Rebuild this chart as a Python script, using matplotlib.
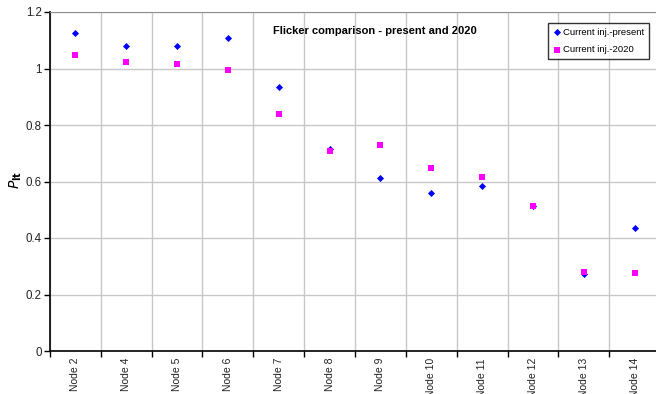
import matplotlib
matplotlib.use("Agg")
import matplotlib.pyplot as plt
import numpy as np

plt.rcParams['font.family'] = ['Liberation Sans', 'DejaVu Sans']

categories = ["Node 2", "Node 4", "Node 5", "Node 6", "Node 7", "Node 8",
              "Node 9", "Node 10", "Node 11", "Node 12", "Node 13", "Node 14"]
present = [1.125, 1.080, 1.079, 1.107, 0.933, 0.715, 0.613, 0.560, 0.584, 0.515, 0.273, 0.434]
y2020 = [1.048, 1.022, 1.017, 0.995, 0.838, 0.708, 0.729, 0.648, 0.615, 0.513, 0.280, 0.276]
yticks = [0, 0.2, 0.4, 0.6, 0.8, 1.0, 1.2]
ytick_labels = ["0", "0.2", "0.4", "0.6", "0.8", "1", "1.2"]

fig = plt.figure(figsize=(6.56, 3.94), dpi=100)
W, H = 656, 394
ax = fig.add_axes([50 / W, 1 - 351 / H, 610 / W, 339 / H])

x = np.arange(len(categories))
ax.scatter(x, present, marker='D', s=13, color='#0000FF', zorder=3, label='Current inj.-present', linewidths=0)
ax.scatter(x, y2020, marker='s', s=22, color='#FF00FF', zorder=3, label='Current inj.-2020', linewidths=0)

ax.set_xlim(-0.5, len(categories) - 0.5)
ax.set_ylim(0, 1.2)
ax.set_yticks(yticks)
ax.set_yticklabels(ytick_labels, fontsize=8.3, color='#222222')

bounds = np.arange(len(categories) + 1) - 0.5
ax.set_xticks(bounds)
ax.set_xticklabels([])
ax.set_xticks(x, minor=True)
ax.set_xticklabels(categories, minor=True, rotation=90, fontsize=7.5, color='#222222')
ax.tick_params(axis='x', which='minor', length=0, pad=5)
ax.tick_params(axis='x', which='major', length=4, width=1, direction='out')
ax.tick_params(axis='y', length=4, width=1, direction='out', pad=2)

ax.grid(True, which='major', color='#C8C8C8', linewidth=1)
ax.set_axisbelow(True)
for s in ['top', 'right']:
    ax.spines[s].set_color('#909090')
for s in ['left', 'bottom']:
    ax.spines[s].set_color('black')
    ax.spines[s].set_linewidth(1.2)

fig.text(375 / W, 1 - 31 / H, "Flicker comparison - present and 2020",
         ha='center', va='center', fontsize=8, fontweight='bold')

fig.text(16 / W, 1 - 180 / H, r"$\mathbf{\mathit{P}}_{\mathbf{lt}}$", rotation=90,
         ha='center', va='center', fontsize=10)

leg = ax.legend(loc='upper right', bbox_to_anchor=(649 / W, 1 - 23 / H), bbox_transform=fig.transFigure,
                fontsize=6.8, frameon=True, fancybox=False, edgecolor='black', handletextpad=0.1,
                handlelength=1.0, borderpad=0.5, labelspacing=0.9, scatterpoints=1, borderaxespad=0)
leg.get_frame().set_linewidth(1)

fig.savefig("out.png", dpi=100)
